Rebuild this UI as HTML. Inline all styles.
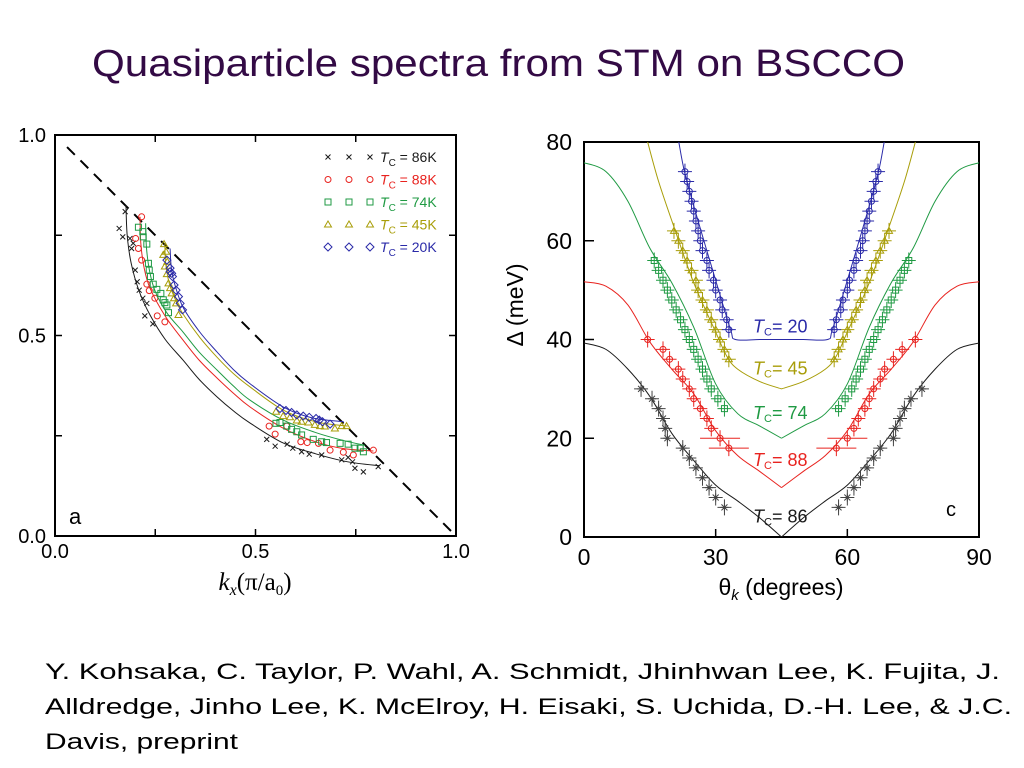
<!DOCTYPE html>
<html><head><meta charset="utf-8"><style>
html,body{margin:0;padding:0;background:#fff;}
svg{display:block;font-family:"Liberation Sans",sans-serif;}
</style></head><body>
<svg id="root" width="1024" height="768" viewBox="0 0 1024 768" xmlns="http://www.w3.org/2000/svg">
<text x="92" y="76" font-size="38" fill="#330a45" textLength="813" lengthAdjust="spacingAndGlyphs">Quasiparticle spectra from STM on BSCCO</text>
<g font-size="22" fill="#000">
<text x="45" y="679" textLength="955" lengthAdjust="spacingAndGlyphs">Y. Kohsaka, C. Taylor, P. Wahl,  A. Schmidt, Jhinhwan Lee, K. Fujita, J.</text>
<text x="45" y="714" textLength="967" lengthAdjust="spacingAndGlyphs">Alldredge, Jinho Lee, K. McElroy, H. Eisaki, S. Uchida, D.-H. Lee, &amp; J.C.</text>
<text x="45" y="749" textLength="193" lengthAdjust="spacingAndGlyphs">Davis, preprint</text>
</g>
<g id="left"></g>
<g id="right"></g>
</svg>
<script>
// ---------- Left chart data ----------
const lkTicks = [0.0, 0.5, 1.0];
const lkTickLabels = ["0.0", "0.5", "1.0"];
const lkMinor = [0.25, 0.5, 0.75];
const lSeriesNames = ["86K", "88K", "74K", "45K", "20K"];
const lCurveBlack = [[.177,.825],[.18,.75],[.19,.68],[.21,.61],[.237,.551],[.275,.49],[.319,.439],[.36,.39],[.404,.347],[.445,.312],[.486,.282],[.569,.232],[.65,.205],[.73,.185],[.81,.175]];
const lCurveRed = [[.212,.796],[.214,.73],[.222,.67],[.237,.618],[.275,.548],[.319,.489],[.36,.438],[.404,.394],[.445,.356],[.486,.322],[.569,.269],[.653,.234],[.72,.218],[.794,.212]];
const lCurveGreen = [[.226,.78],[.228,.72],[.236,.66],[.25,.61],[.28,.555],[.319,.509],[.36,.458],[.404,.414],[.445,.374],[.486,.339],[.569,.289],[.653,.257],[.72,.238],[.773,.226]];
const lCurveYellow = [[.274,.73],[.276,.68],[.285,.63],[.3,.59],[.319,.554],[.362,.494],[.404,.446],[.445,.405],[.486,.372],[.569,.314],[.65,.285],[.73,.274]];
const lCurveBlue = [[.287,.717],[.29,.67],[.298,.63],[.319,.571],[.36,.51],[.404,.459],[.445,.415],[.486,.38],[.569,.322],[.64,.295],[.72,.285]];
const lPtsBlack = [[.16,.767],[.169,.746],[.175,.809],[.187,.742],[.191,.717],[.195,.73],[.2,.663],[.205,.634],[.21,.613],[.219,.593],[.229,.58],[.224,.549],[.244,.529],[.528,.241],[.549,.224],[.579,.229],[.593,.219],[.615,.21],[.634,.204],[.665,.202],[.715,.19],[.731,.196],[.742,.185],[.748,.169],[.769,.16],[.806,.173]];
const lPtsRed = [[.216,.796],[.201,.742],[.208,.717],[.216,.688],[.229,.628],[.235,.612],[.249,.593],[.255,.549],[.274,.534],[.534,.274],[.549,.254],[.578,.274],[.613,.235],[.629,.233],[.657,.231],[.686,.214],[.719,.209],[.744,.202],[.794,.214]];
const lPtsGreen = [[.208,.77],[.219,.759],[.22,.746],[.229,.728],[.233,.68],[.235,.663],[.238,.647],[.245,.628],[.254,.615],[.264,.605],[.27,.589],[.279,.576],[.283,.557],[.274,.582],[.551,.281],[.561,.283],[.578,.274],[.59,.266],[.603,.26],[.615,.252],[.644,.241],[.665,.235],[.677,.233],[.711,.231],[.731,.229],[.748,.219],[.761,.219],[.769,.21]];
const lPtsYellow = [[.272,.728],[.27,.701],[.274,.672],[.279,.653],[.283,.63],[.287,.618],[.291,.605],[.297,.593],[.302,.58],[.308,.551],[.28,.684],[.277,.709],[.551,.31],[.569,.299],[.586,.296],[.603,.288],[.615,.285],[.632,.283],[.648,.277],[.661,.274],[.673,.273],[.698,.268],[.715,.274],[.727,.274]];
const lPtsBlue = [[.279,.688],[.287,.668],[.291,.655],[.293,.647],[.297,.626],[.302,.613],[.308,.597],[.312,.58],[.318,.564],[.287,.659],[.561,.318],[.576,.313],[.59,.308],[.603,.302],[.619,.299],[.634,.296],[.651,.293],[.659,.289],[.667,.285],[.686,.279]];
const lDiag = [[0.03,0.97],[1.0,0.0]];

// ---------- Right chart data ----------
const rxTicks = [0, 30, 60, 90];
const ryTicks = [0, 20, 40, 60, 80];
const rCurveTheta = [0, 5, 10, 15, 20, 25, 30, 35, 40, 45];
const rCurveBlack = [39.3, 38, 34, 28.5, 21, 15.5, 10.5, 7.3, 3.9, 0];
const rCurveRed = [51.7, 50.8, 47, 39.5, 34, 29, 21.5, 16.5, 13.3, 10];
const rCurveGreen = [75.8, 74, 68, 58.5, 51.5, 42.5, 31, 25, 22.5, 20];
const rCurveYellowTheta = [14.5, 17, 20.5, 25, 30, 32.6, 35, 40, 45];
const rCurveYellow = [80, 72, 62.8, 51.5, 41.5, 36.5, 34, 31.5, 30];
const rCurveBlueTheta = [21.6, 23, 26, 30, 33.4, 34.5, 40, 45];
const rCurveBlue = [80, 73.6, 64, 52, 42, 40, 40, 40];
const rBlackD = [30,28,26,24,22,20,18,16,14,12,10,8,6];
const rBlackL = [13,15.5,17,18,18.5,19,22.5,24,25.5,27,28.5,30,32];
const rBlackR = [77,74.5,73,72,71,70.5,67.5,66,64.5,63,61.5,60,58];
const rRedD = [40,38,36,34,32,30,28,26,24,22,20,18];
const rRedL = [14.5,18,19.5,21.5,22.5,24,25,26.5,28,29,31,33];
const rRedR = [75.5,72.5,70.5,68.5,67.5,66,65,64,62.5,61.5,60,57.5];
const rGreenD = [56,54,52,50,48,46,44,42,40,38,36,34,32,30,28,26];
const rGreenL = [16,17,18,19,20,21,22,23,24,25,26,27,28,29,30.5,32];
const rGreenR = [74,73,72,71,70,69,68,67,66,65,64,63,62,61,59.5,58];
const rYellowD = [62,60,58,56,54,52,50,48,46,44,42,40,38,36];
const rYellowL = [20.5,21.5,22.5,23.5,24.5,25.5,26,27,28,29,30,31,32,33];
const rYellowR = [69.5,68.5,67.5,66.5,65.5,64.5,64,63,62,61,60,59,58,57];
const rBlueD = [74,72,70,68,66,64,62,60,58,56,54,52,50,48,46,44,42];
const rBlueL = [23,23.5,24,24.5,25,25.5,26,26.5,27,28,28.5,29.5,30,31,31.5,32.5,33];
const rBlueR = [67,66.5,66,65.5,65,64.5,64,63.5,63,62,61.5,60.5,60,59,58.5,57.5,57];
const rLabels = ["= 20", "= 45", "= 74", "= 88", "= 86"];
const rLabelY = [40, 31.5, 22.5, 13, 1.5];

const NS = "http://www.w3.org/2000/svg";
function mk(tag, attrs, parent) {
  const e = document.createElementNS(NS, tag);
  for (const k in attrs) e.setAttribute(k, attrs[k]);
  parent.appendChild(e);
  return e;
}
function smoothPath(P) {
  let d = "M" + P[0][0] + " " + P[0][1];
  for (let i = 0; i < P.length - 1; i++) {
    const p0 = P[i - 1] || P[i], p1 = P[i], p2 = P[i + 1], p3 = P[i + 2] || P[i + 1];
    const c1 = [p1[0] + (p2[0] - p0[0]) / 6, p1[1] + (p2[1] - p0[1]) / 6];
    const c2 = [p2[0] - (p3[0] - p1[0]) / 6, p2[1] - (p3[1] - p1[1]) / 6];
    d += "C" + c1[0] + " " + c1[1] + " " + c2[0] + " " + c2[1] + " " + p2[0] + " " + p2[1];
  }
  return d;
}
const C = {black:"#1a1a1a", red:"#e8231f", green:"#1f9a43", yellow:"#a89d08", blue:"#2a2aa8"};

// ===== Left chart =====
const L = document.getElementById("left");
const lx = v => 55 + v * 401;
const ly = v => 536 - v * 401;
let fr = mk("rect", {x:55, y:135, width:401, height:401, fill:"none", stroke:"#000", "stroke-width":2}, L);


lkMinor.forEach(t => {
  mk("line", {x1:lx(t), x2:lx(t), y1:536, y2:529, stroke:"#000", "stroke-width":1.5}, L);
  mk("line", {x1:lx(t), x2:lx(t), y1:135, y2:142, stroke:"#000", "stroke-width":1.5}, L);
  mk("line", {x1:55, x2:62, y1:ly(t), y2:ly(t), stroke:"#000", "stroke-width":1.5}, L);
  mk("line", {x1:456, x2:449, y1:ly(t), y2:ly(t), stroke:"#000", "stroke-width":1.5}, L);
});
lkTicks.forEach((t, i) => {
  let a = mk("text", {x:lx(t), y:558, "font-size":20, "text-anchor":"middle"}, L);
  a.textContent = lkTickLabels[i];
  
  
  let b = mk("text", {x:46, y:ly(t) + 7, "font-size":20, "text-anchor":"end"}, L);
  b.textContent = lkTickLabels[i];
  
  
});
let xt = mk("text", {x:255, y:590, "font-size":25, "text-anchor":"middle", "font-family":"Liberation Serif, serif"}, L);


xt.innerHTML = '<tspan font-style="italic">k</tspan><tspan font-style="italic" font-size="16" dy="5">x</tspan><tspan dy="-5">(π/a</tspan><tspan font-size="15" dy="5">0</tspan><tspan dy="-5">)</tspan>';
let pa = mk("text", {x:69, y:524, "font-size":22}, L);
pa.textContent = "a";


let dg = mk("line", {x1:lx(lDiag[0][0]), y1:ly(lDiag[0][1]), x2:lx(lDiag[1][0]), y2:ly(lDiag[1][1]), stroke:"#000", "stroke-width":2, "stroke-dasharray":"11 8"}, L);



function marker(type, x, y, col, parent) {
  let e;
  if (type === "x") {
    e = mk("path", {d:`M${x-2.5} ${y-2.5}L${x+2.5} ${y+2.5}M${x-2.5} ${y+2.5}L${x+2.5} ${y-2.5}`, stroke:col, "stroke-width":1, fill:"none"}, parent);
  } else if (type === "o") {
    e = mk("circle", {cx:x, cy:y, r:3, stroke:col, "stroke-width":1, fill:"none"}, parent);
  } else if (type === "s") {
    e = mk("rect", {x:x-3, y:y-3, width:6, height:6, stroke:col, "stroke-width":1, fill:"none"}, parent);
  } else if (type === "t") {
    e = mk("path", {d:`M${x} ${y-3.5}L${x+3.5} ${y+2.5}L${x-3.5} ${y+2.5}Z`, stroke:col, "stroke-width":1, fill:"none"}, parent);
  } else {
    e = mk("path", {d:`M${x} ${y-4}L${x+4} ${y}L${x} ${y+4}L${x-4} ${y}Z`, stroke:col, "stroke-width":1, fill:"none"}, parent);
  }
  return e;
}
const lSeries = [
  [lCurveBlack, lPtsBlack, "x", C.black],
  [lCurveRed, lPtsRed, "o", C.red],
  [lCurveGreen, lPtsGreen, "s", C.green],
  [lCurveYellow, lPtsYellow, "t", C.yellow],
  [lCurveBlue, lPtsBlue, "d", C.blue]
];
lSeries.forEach((s, i) => {
  const g = mk("g", {}, L);
  
  
  const p = mk("path", {d:smoothPath(s[0].map(q => [lx(q[0]), ly(q[1])])), fill:"none", stroke:s[3], "stroke-width":1}, g);
  
  
  s[1].forEach(q => {
    const m = marker(s[2], lx(q[0]), ly(q[1]), s[3], g);
    
    
  });
  const ly0 = 157 + i * 22.5;
  const lg = mk("g", {}, L);
  
  
  [328, 349, 370].forEach(x => marker(s[2], x, ly0, s[3], lg));
  const t = mk("text", {x:380, y:ly0 + 5, "font-size":14, fill:s[3]}, lg);
  t.innerHTML = '<tspan font-style="italic">T</tspan><tspan font-size="10" dy="4">C</tspan><tspan dy="-4"> = ' + lSeriesNames[i] + '</tspan>';
});

// ===== Right chart =====
const R = document.getElementById("right");
const X0 = 584, X1 = 979, Y0 = 537, Y1 = 142;
const rx = v => X0 + v / 90 * (X1 - X0);
const ry = v => Y0 - v / 80 * (Y0 - Y1);
const clip = mk("clipPath", {id:"rclip"}, R);
mk("rect", {x:X0, y:Y1, width:X1 - X0, height:Y0 - Y1}, clip);
let rf = mk("rect", {x:X0, y:Y1, width:X1 - X0, height:Y0 - Y1, fill:"none", stroke:"#000", "stroke-width":2}, R);


rxTicks.forEach(t => {
  mk("line", {x1:rx(t), x2:rx(t), y1:Y0, y2:Y0 - 8, stroke:"#000", "stroke-width":1.5}, R);
  const a = mk("text", {x:rx(t), y:565, "font-size":23, "text-anchor":"middle"}, R);
  a.textContent = t;
  
  
});
ryTicks.forEach(t => {
  mk("line", {x1:X0, x2:X0 + 10, y1:ry(t), y2:ry(t), stroke:"#000", "stroke-width":1.5}, R);
  const a = mk("text", {x:572, y:ry(t) + 8, "font-size":23, "text-anchor":"end"}, R);
  a.textContent = t;
  
  
});
let rxt = mk("text", {x:781, y:595, "font-size":23, "text-anchor":"middle"}, R);


rxt.innerHTML = 'θ<tspan font-size="15" font-style="italic" dy="5">k</tspan><tspan dy="-5"> (degrees)</tspan>';
let ryt = mk("text", {x:0, y:0, "font-size":23, "text-anchor":"middle", transform:"translate(523,305) rotate(-90)"}, R);
ryt.textContent = "Δ (meV)";


let pc = mk("text", {x:946, y:516, "font-size":20}, R);
pc.textContent = "c";



function ptMarker(type, x, y, col, g) {
  if (type === "star") {
    return mk("path", {d:`M${x-4} ${y}L${x+4} ${y}M${x} ${y-4}L${x} ${y+4}M${x-3} ${y-3}L${x+3} ${y+3}M${x-3} ${y+3}L${x+3} ${y-3}`, stroke:col, "stroke-width":1, fill:"none"}, g);
  }
  return marker(type, x, y, col, g);
}
const rSeries = [
  ["86", rCurveTheta, rCurveBlack, rBlackD, rBlackL, rBlackR, "star", C.black, "#444"],
  ["88", rCurveTheta, rCurveRed, rRedD, rRedL, rRedR, "o", C.red, C.red],
  ["74", rCurveTheta, rCurveGreen, rGreenD, rGreenL, rGreenR, "s", C.green, C.green],
  ["45", rCurveYellowTheta, rCurveYellow, rYellowD, rYellowL, rYellowR, "t", C.yellow, C.yellow],
  ["20", rCurveBlueTheta, rCurveBlue, rBlueD, rBlueL, rBlueR, "o", C.blue, C.blue]
];
rSeries.forEach(s => {
  const g = mk("g", {"clip-path":"url(#rclip)"}, R);
  
  
  const leftHalf = s[1].map((t, i) => [rx(t), ry(s[2][i])]);
  const rightHalf = s[1].map((t, i) => [rx(90 - t), ry(s[2][i])]).reverse();
  const p = mk("path", {d:smoothPath(leftHalf) + " " + smoothPath(rightHalf), fill:"none", stroke:s[7], "stroke-width":1}, g);
  
  
  const n = s[3].length;
  [s[4], s[5]].forEach(th => {
    th.forEach((t, i) => {
      const x = rx(t), y = ry(s[3][i]);
      const wide = (s[0] === "88" && i >= n - 2) ? 20 : 7;
      mk("line", {x1:x - wide, x2:x + wide, y1:y, y2:y, stroke:s[8], "stroke-width":1}, g);
      mk("line", {x1:x, x2:x, y1:y - 8, y2:y + 8, stroke:s[8], "stroke-width":1}, g);
      const m = ptMarker(s[6], x, y, s[8], g);
      
      
    });
  });
});
const lblCols = [C.blue, C.yellow, C.green, C.red, C.black];
rLabels.forEach((l, i) => {
  const t = mk("text", {x:753, y:ry(rLabelY[i]) - 7, "font-size":18, fill:lblCols[i]}, R);
  t.innerHTML = '<tspan font-style="italic">T</tspan><tspan font-size="11" dy="3">C</tspan><tspan dy="-3">' + l + '</tspan>';
  
  
});
</script>
</body></html>
